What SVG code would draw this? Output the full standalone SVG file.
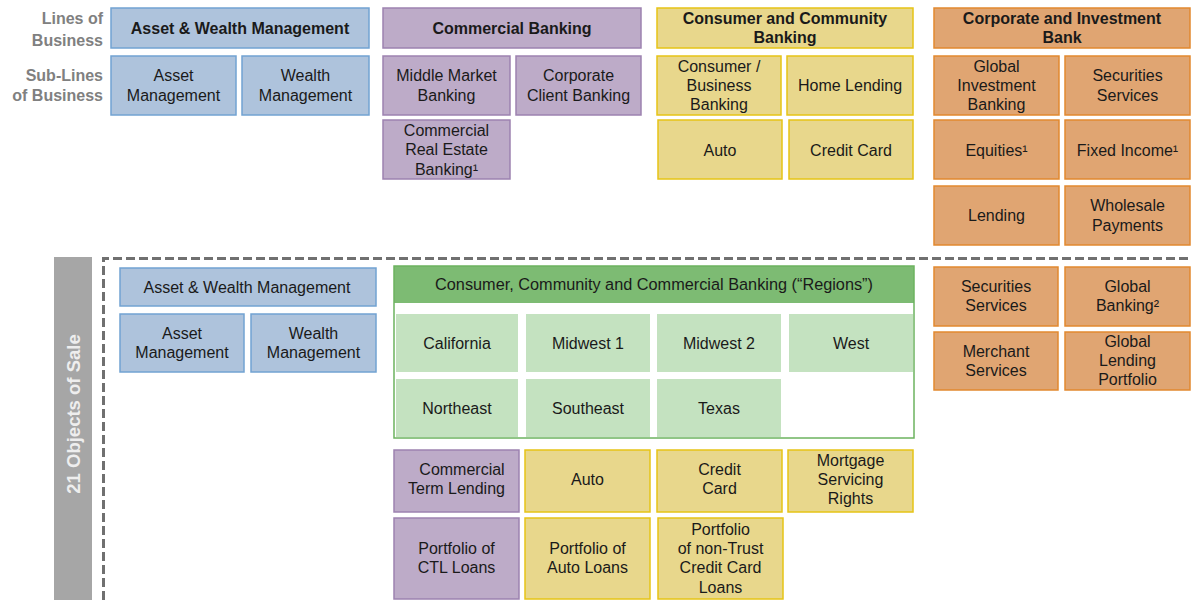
<svg xmlns="http://www.w3.org/2000/svg" width="1191" height="600" viewBox="0 0 1191 600">
<style>
.b{fill:#aec3dc;stroke:#72a3d2;stroke-width:1.5}
.p{fill:#bdabc8;stroke:#9d82b0;stroke-width:1.5}
.y{fill:#e8d78c;stroke:#e6c416;stroke-width:1.5}
.o{fill:#e0a572;stroke:#e2892f;stroke-width:1.5}
.gh{fill:#7dbb73}
.gc{fill:#c4e2c0}
.gb{fill:none;stroke:#6cb35f;stroke-width:1.5}
text{font-family:"Liberation Sans",Arial,sans-serif;font-size:16px;fill:#1a1a1a;text-anchor:middle}
.h{font-weight:bold}
.lbl{font-weight:bold;fill:#808080;text-anchor:end}
.vt{font-weight:bold;fill:#eeeeee;font-size:18.5px}
</style>
<g id="labels">
<text class="lbl" x="103" y="24">Lines of</text>
<text class="lbl" x="103" y="46">Business</text>
<text class="lbl" x="103" y="81">Sub-Lines</text>
<text class="lbl" x="103" y="101">of Business</text>
</g>
<g id="awm"><rect class="b" x="111" y="8" width="258" height="40"/><text class="h" x="240" y="34">Asset &amp; Wealth Management</text></g>
<g id="am"><rect class="b" x="111" y="56" width="125" height="59"/><text x="173.5" y="81">Asset</text><text x="173.5" y="101">Management</text></g>
<g id="wm"><rect class="b" x="242" y="56" width="127" height="59"/><text x="305.5" y="81">Wealth</text><text x="305.5" y="101">Management</text></g>
<g id="cb"><rect class="p" x="383" y="8" width="258" height="40"/><text class="h" x="512" y="34">Commercial Banking</text></g>
<g id="mmb"><rect class="p" x="383" y="56" width="127" height="59"/><text x="446.5" y="81">Middle Market</text><text x="446.5" y="101">Banking</text></g>
<g id="ccbk"><rect class="p" x="516" y="56" width="125" height="59"/><text x="578.5" y="81">Corporate</text><text x="578.5" y="101">Client Banking</text></g>
<g id="cre"><rect class="p" x="383" y="120" width="127" height="59"/><text x="446.5" y="136">Commercial</text><text x="446.5" y="155">Real Estate</text><text x="446.5" y="175">Banking¹</text></g>
<g id="ccb"><rect class="y" x="657" y="8" width="256" height="40"/><text class="h" x="785" y="24">Consumer and Community</text><text class="h" x="785" y="43">Banking</text></g>
<g id="cbb"><rect class="y" x="657" y="56" width="124" height="59"/><text x="719" y="72">Consumer /</text><text x="719" y="91">Business</text><text x="719" y="110">Banking</text></g>
<g id="hl"><rect class="y" x="787" y="56" width="126" height="59"/><text x="850" y="91">Home Lending</text></g>
<g id="auto1"><rect class="y" x="658" y="120" width="124" height="59"/><text x="720" y="156">Auto</text></g>
<g id="cc1"><rect class="y" x="789" y="120" width="124" height="59"/><text x="851" y="156">Credit Card</text></g>
<g id="cib"><rect class="o" x="934" y="8" width="256" height="40"/><text class="h" x="1062" y="24">Corporate and Investment</text><text class="h" x="1062" y="43">Bank</text></g>
<g id="gib"><rect class="o" x="934" y="56" width="125" height="59"/><text x="996.5" y="72">Global</text><text x="996.5" y="91">Investment</text><text x="996.5" y="110">Banking</text></g>
<g id="ss1"><rect class="o" x="1065" y="56" width="125" height="59"/><text x="1127.5" y="81">Securities</text><text x="1127.5" y="101">Services</text></g>
<g id="eq"><rect class="o" x="934" y="120" width="125" height="59"/><text x="996.5" y="156">Equities¹</text></g>
<g id="fi"><rect class="o" x="1065" y="120" width="125" height="59"/><text x="1127.5" y="156">Fixed Income¹</text></g>
<g id="lend"><rect class="o" x="934" y="186" width="125" height="59"/><text x="996.5" y="221">Lending</text></g>
<g id="wp"><rect class="o" x="1065" y="186" width="125" height="59"/><text x="1127.5" y="211">Wholesale</text><text x="1127.5" y="231">Payments</text></g>
<g id="objects">
<rect x="54" y="257" width="38" height="343" fill="#a6a6a6"/>
<text class="vt" transform="translate(80,414) rotate(-90)">21 Objects of Sale</text>
<path d="M103.5,600 V258.5 H1191" fill="none" stroke="#707070" stroke-width="3" stroke-dasharray="9 4"/>
</g>
<g id="awm2"><rect class="b" x="120" y="268" width="256" height="38"/><text x="247" y="293">Asset &amp; Wealth Management</text></g>
<g id="am2"><rect class="b" x="120" y="314" width="124" height="58"/><text x="182" y="339">Asset</text><text x="182" y="358">Management</text></g>
<g id="wm2"><rect class="b" x="251" y="314" width="125" height="58"/><text x="313.5" y="339">Wealth</text><text x="313.5" y="358">Management</text></g>
<g id="regions">
<rect class="gh" x="394" y="266" width="520" height="37"/>
<text x="654" y="290" style="font-size:16.3px">Consumer, Community and Commercial Banking (“Regions”)</text>
<rect class="gb" x="394" y="266" width="520" height="172"/>
</g>
<g id="cal"><rect class="gc" x="396" y="314" width="122" height="58"/><text x="457" y="349">California</text></g>
<g id="mw1"><rect class="gc" x="526" y="314" width="124" height="58"/><text x="588" y="349">Midwest 1</text></g>
<g id="mw2"><rect class="gc" x="657" y="314" width="124" height="58"/><text x="719" y="349">Midwest 2</text></g>
<g id="west"><rect class="gc" x="789" y="314" width="124" height="58"/><text x="851" y="349">West</text></g>
<g id="ne"><rect class="gc" x="396" y="379" width="122" height="58"/><text x="457" y="414">Northeast</text></g>
<g id="se"><rect class="gc" x="526" y="379" width="124" height="58"/><text x="588" y="414">Southeast</text></g>
<g id="tx"><rect class="gc" x="657" y="379" width="124" height="58"/><text x="719" y="414">Texas</text></g>
<g id="ctl"><rect class="p" x="394" y="450" width="125" height="62"/><text x="462" y="475">Commercial</text><text x="456.5" y="494">Term Lending</text></g>
<g id="auto2"><rect class="y" x="525" y="450" width="125" height="62"/><text x="587.5" y="485">Auto</text></g>
<g id="cc2"><rect class="y" x="657" y="450" width="125" height="62"/><text x="719.5" y="475">Credit</text><text x="719.5" y="494">Card</text></g>
<g id="msr"><rect class="y" x="788" y="450" width="125" height="62"/><text x="850.5" y="466">Mortgage</text><text x="850.5" y="485">Servicing</text><text x="850.5" y="504">Rights</text></g>
<g id="pctl"><rect class="p" x="394" y="518" width="125" height="81"/><text x="456.5" y="554">Portfolio of</text><text x="456.5" y="573">CTL Loans</text></g>
<g id="pauto"><rect class="y" x="525" y="518" width="125" height="81"/><text x="587.5" y="554">Portfolio of</text><text x="587.5" y="573">Auto Loans</text></g>
<g id="pcc"><rect class="y" x="658" y="518" width="125" height="81"/><text x="720.5" y="535">Portfolio</text><text x="720.5" y="554">of non-Trust</text><text x="720.5" y="573">Credit Card</text><text x="720.5" y="593">Loans</text></g>
<g id="ss2"><rect class="o" x="934" y="267" width="124" height="59"/><text x="996" y="292">Securities</text><text x="996" y="311">Services</text></g>
<g id="gb"><rect class="o" x="1065" y="267" width="125" height="59"/><text x="1127.5" y="292">Global</text><text x="1127.5" y="311">Banking²</text></g>
<g id="ms"><rect class="o" x="934" y="332" width="124" height="58"/><text x="996" y="357">Merchant</text><text x="996" y="376">Services</text></g>
<g id="glp"><rect class="o" x="1065" y="332" width="125" height="58"/><text x="1127.5" y="347">Global</text><text x="1127.5" y="366">Lending</text><text x="1127.5" y="385">Portfolio</text></g>
</svg>
